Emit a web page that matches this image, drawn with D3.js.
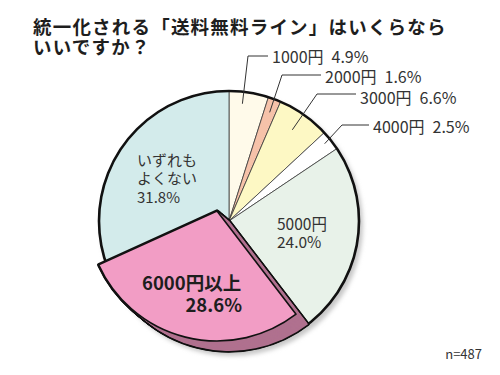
<!DOCTYPE html>
<html><head><meta charset="utf-8">
<script src="https://cdn.jsdelivr.net/npm/d3@7"></script>
<style>
html,body{margin:0;padding:0;background:#fff;}
text{font-family:"Noto Sans CJK JP","Noto Sans",sans-serif;}
</style></head>
<body><svg id="c" width="500" height="375"></svg>
<script>
// ---- data ----
const categories = ["1000円","2000円","3000円","4000円","5000円","6000円以上","いずれもよくない"];
const values = [4.9, 1.6, 6.6, 2.5, 24.0, 28.6, 31.8];
const titleLines = ["統一化される「送料無料ライン」はいくらなら","いいですか？"];
const sampleNote = "n=487";

// ---- styling / layout ----
const colors = ["#fffaea","#f6c2a9","#fdf8c4","#ffffff","#e8f2e9","#f29dc5","#d3ebeb"];
const wallColor = "#b0718f";
const cx = 229, cy = 221, R = 130;
const lift = [-12, -10];
const highlight = 5;

const svg = d3.select("#c");
const defs = svg.append("defs");
defs.append("filter").attr("id","blur").append("feGaussianBlur").attr("stdDeviation",2);

// title
svg.append("g").selectAll("text").data(titleLines).join("text")
  .attr("x",33).attr("y",(d,i)=>26+i*20)
  .attr("dominant-baseline","central")
  .attr("font-size",18.5).attr("font-weight","bold").attr("letter-spacing",1.2)
  .attr("fill","#1e1e1e").text(d=>d);

const pie = d3.pie().sort(null).value(d=>d).startAngle(0).endAngle(2*Math.PI);
const arcs = pie(values);
const arc = d3.arc().innerRadius(0).outerRadius(R);

const g = svg.append("g").attr("transform",`translate(${cx},${cy})`);

// shadow
g.append("circle").attr("cx",3).attr("cy",4).attr("r",R+1)
  .attr("fill","#c8c8c8").attr("filter","url(#blur)");

// regular slices
g.selectAll("path.s").data(arcs.filter((d,i)=>i!==highlight)).join("path")
  .attr("class","s").attr("d",arc)
  .attr("fill",d=>colors[d.index]).attr("stroke","#3a3a3a").attr("stroke-width",0.8);

g.append("circle").attr("r",R).attr("fill","none").attr("stroke","#111").attr("stroke-width",2.6);

// lifted slice with side wall
const hd = arcs[highlight];
const N = 16;
const steps = d3.range(N+1).map(k=>[lift[0]*k/N, lift[1]*k/N]);
const wall1 = g.append("g");
const wall2 = g.append("g");
steps.forEach(o=>{
  wall1.append("path").attr("d",arc(hd)).attr("transform",`translate(${o[0]},${o[1]})`)
    .attr("fill",wallColor).attr("stroke","#111").attr("stroke-width",3.4).attr("stroke-linejoin","round");
});
steps.forEach(o=>{
  wall2.append("path").attr("d",arc(hd)).attr("transform",`translate(${o[0]},${o[1]})`)
    .attr("fill",wallColor);
});
g.append("path").attr("d",arc(hd)).attr("transform",`translate(${lift[0]},${lift[1]})`)
  .attr("fill",colors[highlight]).attr("stroke","#111").attr("stroke-width",1.6).attr("stroke-linejoin","round");

// leader labels for small slices
const leaderLayout = [
  {i:0, elbow:[248,56], lineEnd:268, tx:272, ty:56, ang:-2.3, rad:118},
  {i:1, elbow:[282,75], lineEnd:321, tx:325, ty:75.5, ang:0, rad:116},
  {i:2, elbow:[317,94], lineEnd:356, tx:360, ty:97, ang:-0.5, rad:111},
  {i:3, elbow:[342,125], lineEnd:369, tx:373, ty:126, ang:-0.6, rad:123}
];
const lg = svg.append("g");
leaderLayout.forEach(L=>{
  const a = arcs[L.i];
  const mid = (a.startAngle+a.endAngle)/2 + L.ang*Math.PI/180;
  const px = cx + L.rad*Math.sin(mid), py = cy - L.rad*Math.cos(mid);
  lg.append("polyline")
    .attr("points",[[px,py],L.elbow,[L.lineEnd,L.elbow[1]]].map(p=>p.join(",")).join(" "))
    .attr("fill","none").attr("stroke","#333").attr("stroke-width",1);
  lg.append("text").attr("x",L.tx).attr("y",L.ty).attr("dominant-baseline","central")
    .attr("font-size",16).attr("fill","#333")
    .text(categories[L.i] + "\u2002" + values[L.i].toFixed(1) + "%");
});

// inside labels
function block(lines, x, y0, dy, opts){
  lines.forEach((s,k)=>{
    svg.append("text").attr("x",opts.xs?opts.xs[k]:x).attr("y",y0+k*dy)
      .attr("dominant-baseline","central")
      .attr("font-size",opts.size).attr("fill",opts.fill||"#333")
      .attr("font-weight",opts.weight||"normal")
      .attr("text-anchor",opts.anchors?opts.anchors[k]:"start").text(s);
  });
}
block(["いずれも","よくない", values[6].toFixed(1)+"%"], 137, 159, 18.5, {size:15});
block([categories[4], values[4].toFixed(1)+"%"], 277, 223, 17.5, {size:15.5});
block([categories[5], values[5].toFixed(1)+"%"], 142, 282, 21.5,
  {size:18.5, weight:"bold", fill:"#1e1e1e", xs:[142,242], anchors:["start","end"]});

svg.append("text").attr("x",482).attr("y",353).attr("text-anchor","end")
  .attr("dominant-baseline","central").attr("font-size",13).attr("fill","#333").text(sampleNote);
</script></body></html>
